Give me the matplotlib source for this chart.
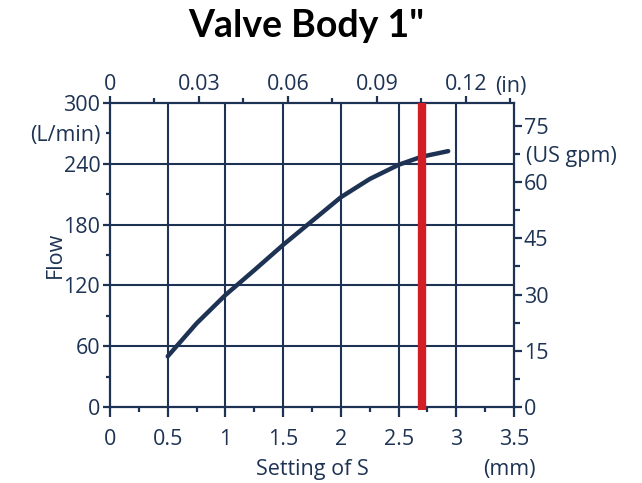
import matplotlib
matplotlib.use('Agg')
import matplotlib.pyplot as plt
from matplotlib.ticker import FixedLocator, FixedFormatter

# ---- data ----
setting_mm = [0.5, 0.75, 1.0, 1.25, 1.5, 1.75, 2.0, 2.25, 2.5, 2.7, 2.93]
flow_lpm = [50, 82.5, 110.5, 135, 160, 183.5, 207, 225, 239, 247, 252.5]
marker_setting = 2.7

x_ticks = [0, 0.5, 1, 1.5, 2, 2.5, 3, 3.5]
x_ticklabels = ['0', '0.5', '1', '1.5', '2', '2.5', '3', '3.5']
y_ticks = [0, 60, 120, 180, 240, 300]
y_ticklabels = ['0', '60', '120', '180', '240', '300']
top_ticks = [0, 0.03, 0.06, 0.09, 0.12]
top_ticklabels = ['0', '0.03', '0.06', '0.09', '0.12']
right_ticks = [0, 15, 30, 45, 60, 75]
right_ticklabels = ['0', '15', '30', '45', '60', '75']

mm_per_in = 25.7      # as drawn
lpm_per_gpm = 3.70    # as drawn

navy = '#1e3354'
red = '#d21f26'
FONT = 'Open Sans'
FS = 15.5

plt.rcParams['font.family'] = [FONT, 'DejaVu Sans']

fig = plt.figure(figsize=(6.42, 4.83), dpi=100)
ax = fig.add_axes([110/642, 1-407/483, 404/642, 304/483])

ax.set_xlim(0, 3.5)
ax.set_ylim(0, 300)

# grid
for xv in x_ticks[1:-1]:
    ax.axvline(xv, color=navy, lw=1.5, zorder=1)
for yv in y_ticks[1:-1]:
    ax.axhline(yv, color=navy, lw=1.5, zorder=1)

ax.plot(setting_mm, flow_lpm, color=navy, lw=3.2, solid_capstyle='round',
        solid_joinstyle='round', zorder=3)
ax.plot([marker_setting, marker_setting], [-3, 300], color=red, lw=6,
        solid_capstyle='butt', clip_on=False, zorder=4)

for s in ax.spines.values():
    s.set_color(navy)
    s.set_linewidth(1.6)

# bottom axis
ax.xaxis.set_major_locator(FixedLocator(x_ticks))
ax.xaxis.set_major_formatter(FixedFormatter(x_ticklabels))
ax.xaxis.set_minor_locator(FixedLocator([0.25, 0.75, 1.25, 1.75, 2.25, 2.75, 3.25]))
ax.tick_params(axis='x', which='major', length=7.5, width=1.6, color=navy,
               labelcolor=navy, labelsize=FS, pad=8.5)
ax.tick_params(axis='x', which='minor', length=3.5, width=1.6, color=navy)
ax.text(0.5, -0.2237, 'Setting of S', transform=ax.transAxes, ha='center',
        va='baseline', color=navy, fontsize=FS)
ax.text(0.989, -0.2237, '(mm)', transform=ax.transAxes, ha='center',
        va='baseline', color=navy, fontsize=FS)

# left axis
ax.yaxis.set_major_locator(FixedLocator(y_ticks))
ax.yaxis.set_major_formatter(FixedFormatter(y_ticklabels))
ax.yaxis.set_minor_locator(FixedLocator([30, 90, 150, 210, 270]))
ax.yaxis.set_minor_formatter(FixedFormatter(['', '', '', '', '(L/min)']))
ax.tick_params(axis='y', which='major', length=5, width=1.6, color=navy,
               labelcolor=navy, labelsize=FS, pad=2)
ax.tick_params(axis='y', which='minor', length=3, width=1.6, color=navy,
               labelcolor=navy, labelsize=FS, pad=4)
ax.text(-0.134, 0.5, 'Flow', transform=ax.transAxes, rotation=90,
        ha='center', va='center', color=navy, fontsize=FS)

# top axis (inches)
axt = ax.twiny()
axt.set_xlim(0, 3.5 / mm_per_in)
axt.xaxis.set_major_locator(FixedLocator(top_ticks))
axt.xaxis.set_major_formatter(FixedFormatter(top_ticklabels))
axt.xaxis.set_minor_locator(FixedLocator([0.015, 0.045, 0.075, 0.105, 0.135]))
axt.tick_params(axis='x', which='major', length=5, width=1.6, color=navy,
                labelcolor=navy, labelsize=FS, pad=1)
axt.tick_params(axis='x', which='minor', length=3.5, width=1.6, color=navy)
axt.text(0.992, 1.036, '(in)', transform=ax.transAxes, ha='center', va='baseline',
         color=navy, fontsize=FS)
for s in axt.spines.values():
    s.set_visible(False)

# right axis (US gpm)
axr = ax.twinx()
axr.set_ylim(0, 300 / lpm_per_gpm)
axr.yaxis.set_major_locator(FixedLocator(right_ticks))
axr.yaxis.set_major_formatter(FixedFormatter(right_ticklabels))
axr.yaxis.set_minor_locator(FixedLocator([7.5, 22.5, 37.5, 52.5, 67.5]))
axr.yaxis.set_minor_formatter(FixedFormatter(['', '', '', '', '(US gpm)']))
axr.tick_params(axis='y', which='major', length=5.5, width=1.6, color=navy,
                labelcolor=navy, labelsize=FS, pad=1.5)
axr.tick_params(axis='y', which='minor', length=4, width=1.6, color=navy,
                labelcolor=navy, labelsize=FS, pad=5)
for s in axr.spines.values():
    s.set_visible(False)

fig.text(306/642, 1-37/483, 'Valve Body 1"', ha='center', va='baseline',
         fontsize=27, fontweight='bold', color='black', family=['Lato', 'DejaVu Sans'])

fig.savefig('out.png', dpi=100)
